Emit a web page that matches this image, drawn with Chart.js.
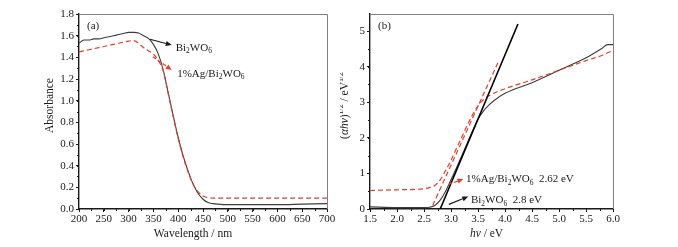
<!DOCTYPE html>
<html>
<head>
<meta charset="utf-8">
<script src="https://cdn.jsdelivr.net/npm/chart.js@4/dist/chart.umd.min.js"></script>
<style>
  html, body { margin: 0; padding: 0; background: #fff; }
  #wrap { position: relative; width: 678px; height: 247px; }
  #wrap canvas { position: absolute; top: 0; }
</style>
</head>
<body>
<div id="wrap">
  <canvas id="panelA" width="340" height="247" style="left:0"></canvas>
  <canvas id="panelB" width="338" height="247" style="left:340px"></canvas>
</div>
<script>
// Panel (a): UV-vis absorbance; panel (b): Tauc plot (αhν)^1/2 vs hν.

const wavelength = [200, 210, 220, 230, 240, 250, 260, 270, 280, 290, 300, 310, 320, 330, 340, 350, 360, 370,
  380, 390, 400, 410, 420, 430, 440, 450, 460, 470, 480, 500, 550, 600, 650, 700];
const absBi2WO6 = [1.53, 1.56, 1.56, 1.57, 1.57, 1.58, 1.59, 1.60, 1.61, 1.62, 1.63, 1.63, 1.625, 1.60, 1.575,
  1.52, 1.43, 1.28, 1.07, 0.86, 0.66, 0.49, 0.35, 0.23, 0.145, 0.09, 0.06, 0.05, 0.045, 0.04, 0.04, 0.04, 0.045, 0.05];
const absAg = [1.45, 1.46, 1.47, 1.48, 1.49, 1.50, 1.51, 1.52, 1.53, 1.54, 1.55, 1.555, 1.53, 1.49, 1.46,
  1.43, 1.37, 1.27, 1.06, 0.85, 0.65, 0.48, 0.34, 0.23, 0.16, 0.12, 0.105, 0.10, 0.10, 0.10, 0.10, 0.10, 0.10, 0.10];

const energy = [1.5, 2.0, 2.5, 2.6, 2.7, 2.8, 2.9, 3.0, 3.1, 3.2, 3.3, 3.4, 3.5, 3.6, 3.7, 3.8, 4.0, 4.5, 5.0, 5.5, 5.8, 5.9, 6.0];
const taucBi2WO6 = [0.06, 0.04, 0.04, 0.05, 0.10, 0.25, 0.50, 0.82, 1.15, 1.50, 1.85, 2.20, 2.52, 2.75, 2.92, 3.05,
  3.25, 3.55, 3.90, 4.25, 4.52, 4.62, 4.62];
const taucAg = [0.52, 0.54, 0.57, 0.60, 0.66, 0.82, 1.08, 1.37, 1.70, 2.02, 2.35, 2.65, 2.90, 3.07, 3.18, 3.26,
  3.38, 3.63, 3.90, 4.17, 4.32, 4.39, 4.45];
const tangentBiX = [2.8, 4.24];
const tangentBiY = [0, 5.2];
const tangentAgX = [2.66, 3.88];
const tangentAgY = [0.1, 4.15];

const ticksAX = [200, 250, 300, 350, 400, 450, 500, 550, 600, 650, 700];
const ticksAY = [0, 0.2, 0.4, 0.6, 0.8, 1.0, 1.2, 1.4, 1.6, 1.8];
const ticksBX = [1.5, 2.0, 2.5, 3.0, 3.5, 4.0, 4.5, 5.0, 5.5, 6.0];
const ticksBY = [0, 1, 2, 3, 4, 5];

const SERIF = "'Liberation Serif', 'DejaVu Serif', serif";
const INK = "#1a1a1a";
const GREY = "#3c3c3c";
const RED = "#e0402c";

const pts = (xs, ys) => xs.map((x, i) => ({ x, y: ys[i] }));

// draws a run of [text, style] pieces; style: "" | "i" | "sub" | "sup"
function rich(ctx, segs, x, y, size, align) {
  const fontFor = (st) => {
    const s = st === "sub" || st === "sup" ? size * 0.68 : size;
    return `${st === "i" ? "italic " : ""}${s}px ${SERIF}`;
  };
  let total = 0;
  segs.forEach(([t, st]) => { ctx.font = fontFor(st); total += ctx.measureText(t).width; });
  let cx = align === "center" ? x - total / 2 : x;
  ctx.textAlign = "left";
  ctx.textBaseline = "alphabetic";
  segs.forEach(([t, st]) => {
    ctx.font = fontFor(st);
    const dy = st === "sub" ? size * 0.25 : st === "sup" ? -size * 0.4 : 0;
    ctx.fillText(t, cx, y + dy);
    cx += ctx.measureText(t).width;
  });
}

function arrow(ctx, x0, y0, x1, y1, color, dashed) {
  const a = Math.atan2(y1 - y0, x1 - x0);
  const hl = 6, hw = 2.6;
  const bx = x1 - hl * Math.cos(a), by = y1 - hl * Math.sin(a);
  ctx.save();
  ctx.strokeStyle = color;
  ctx.fillStyle = color;
  ctx.lineWidth = 1.2;
  ctx.setLineDash(dashed ? [4, 2] : []);
  ctx.beginPath(); ctx.moveTo(x0, y0); ctx.lineTo(bx, by); ctx.stroke();
  ctx.setLineDash([]);
  ctx.beginPath();
  ctx.moveTo(x1, y1);
  ctx.lineTo(bx + hw * Math.sin(a), by - hw * Math.cos(a));
  ctx.lineTo(bx - hw * Math.sin(a), by + hw * Math.cos(a));
  ctx.closePath(); ctx.fill();
  ctx.restore();
}

// frame, minor ticks, axis titles and annotations, all placed through the scales
function decor(opts) {
  return {
    id: "decor",
    afterDraw(chart) {
      const { ctx, chartArea: ca, scales: { x, y } } = chart;
      ctx.save();
      ctx.strokeStyle = "#808080";
      ctx.lineWidth = 1;
      ctx.beginPath();
      ctx.moveTo(ca.left, ca.top + 0.5); ctx.lineTo(ca.right + 0.5, ca.top + 0.5); ctx.lineTo(ca.right + 0.5, ca.bottom);
      ctx.stroke();

      ctx.strokeStyle = INK;
      ctx.beginPath();
      for (let v = x.min; v <= x.max + 1e-9; v += opts.minorX) {
        const px = Math.round(x.getPixelForValue(v)) + 0.5;
        ctx.moveTo(px, ca.bottom); ctx.lineTo(px, ca.bottom + 2);
      }
      for (let v = y.min; v <= y.max + 1e-9; v += opts.minorY) {
        const py = Math.round(y.getPixelForValue(v)) + 0.5;
        ctx.moveTo(ca.left, py); ctx.lineTo(ca.left - 2, py);
      }
      ctx.stroke();

      ctx.fillStyle = INK;
      rich(ctx, [[opts.tag, ""]], ca.left + 8, ca.top + 15, 11);
      rich(ctx, opts.xTitle, (ca.left + ca.right) / 2 + opts.xTitleShift, 237, 11.5, "center");
      ctx.save();
      ctx.translate(opts.yTitleX, (ca.top + ca.bottom) / 2 - 6);
      ctx.rotate(-Math.PI / 2);
      rich(ctx, opts.yTitle, 0, 0, 11.5, "center");
      ctx.restore();

      opts.notes.forEach((n) => {
        arrow(ctx, x.getPixelForValue(n.from[0]), y.getPixelForValue(n.from[1]),
          x.getPixelForValue(n.to[0]), y.getPixelForValue(n.to[1]), n.color, n.dashed);
        ctx.fillStyle = INK;
        rich(ctx, n.text, x.getPixelForValue(n.at[0]), y.getPixelForValue(n.at[1]) + 4, 11);
      });
      ctx.restore();
    },
  };
}

function axes(xTicks, yTicks, xDigits, yDigits, xMin, xMax, yMin, yMax, yWidth) {
  const tickFont = { family: SERIF, size: 11 };
  const common = {
    type: "linear",
    grid: { drawOnChartArea: false, drawTicks: true, tickLength: 3, color: INK, lineWidth: 1 },
    border: { display: true, color: INK, width: 1.4 },
  };
  return {
    x: {
      ...common, min: xMin, max: xMax,
      afterBuildTicks: (s) => { s.ticks = xTicks.map((value) => ({ value })); },
      afterFit: (s) => { s.height = 38; },
      ticks: { font: tickFont, color: INK, padding: 1, maxRotation: 0, autoSkip: false,
        callback: (v) => Number(v).toFixed(xDigits) },
    },
    y: {
      ...common, min: yMin, max: yMax,
      afterBuildTicks: (s) => { s.ticks = yTicks.map((value) => ({ value })); },
      afterFit: (s) => { s.width = yWidth; },
      ticks: { font: tickFont, color: INK, padding: 2, autoSkip: false,
        callback: (v) => Number(v).toFixed(yDigits) },
    },
  };
}

const lineBase = { pointRadius: 0, fill: false, cubicInterpolationMode: "monotone" };

new Chart(document.getElementById("panelA"), {
  type: "line",
  data: {
    datasets: [
      { ...lineBase, data: pts(wavelength, absAg), borderColor: RED, borderWidth: 1.2, borderDash: [5, 3], order: 1 },
      { ...lineBase, data: pts(wavelength, absBi2WO6), borderColor: GREY, borderWidth: 1.1, order: 2 },
    ],
  },
  options: {
    responsive: false, animation: false, devicePixelRatio: 1,
    layout: { padding: { left: 0, right: 13, top: 14, bottom: 0 } },
    plugins: { legend: { display: false }, tooltip: { enabled: false } },
    scales: axes(ticksAX, ticksAY, 0, 1, 200, 700, 0, 1.8, 79),
  },
  plugins: [decor({
    tag: "(a)", minorX: 25, minorY: 0.1, xTitleShift: -10, yTitleX: 53,
    xTitle: [["Wavelength / nm", ""]],
    yTitle: [["Absorbance", ""]],
    notes: [
      { from: [343, 1.567], to: [387, 1.514], at: [395, 1.5], color: INK, dashed: false,
        text: [["Bi", ""], ["2", "sub"], ["WO", ""], ["6", "sub"]] },
      { from: [349, 1.406], to: [387, 1.283], at: [398, 1.26], color: RED, dashed: true,
        text: [["1%Ag/Bi", ""], ["2", "sub"], ["WO", ""], ["6", "sub"]] },
    ],
  })],
});

new Chart(document.getElementById("panelB"), {
  type: "line",
  data: {
    datasets: [
      { ...lineBase, data: pts(tangentBiX, tangentBiY), borderColor: "#000", borderWidth: 1.6, order: 0, cubicInterpolationMode: "default" },
      { ...lineBase, data: pts(tangentAgX, tangentAgY), borderColor: RED, borderWidth: 1.2, borderDash: [5, 3], order: 1, cubicInterpolationMode: "default" },
      { ...lineBase, data: pts(energy, taucAg), borderColor: RED, borderWidth: 1.2, borderDash: [5, 3], order: 2 },
      { ...lineBase, data: pts(energy, taucBi2WO6), borderColor: GREY, borderWidth: 1.1, order: 3 },
    ],
  },
  options: {
    responsive: false, animation: false, devicePixelRatio: 1,
    layout: { padding: { left: 0, right: 65, top: 14, bottom: 0 } },
    plugins: { legend: { display: false }, tooltip: { enabled: false } },
    scales: axes(ticksBX, ticksBY, 1, 0, 1.5, 6.0, 0, 5.48, 30),
  },
  plugins: [decor({
    tag: "(b)", minorX: 0.25, minorY: 0.5, xTitleShift: -5, yTitleX: 8,
    xTitle: [["hν", "i"], [" / eV", ""]],
    yTitle: [["(", ""], ["αhν", "i"], [")", ""], ["1/2", "sup"], [" / eV", ""], ["1/2", "sup"]],
    notes: [
      { from: [2.95, 0.69], to: [3.23, 0.84], at: [3.28, 0.86], color: RED, dashed: true,
        text: [["1%Ag/Bi", ""], ["2", "sub"], ["WO", ""], ["6", "sub"], ["  2.62 eV", ""]] },
      { from: [2.96, 0.13], to: [3.32, 0.35], at: [3.37, 0.28], color: INK, dashed: false,
        text: [["Bi", ""], ["2", "sub"], ["WO", ""], ["6", "sub"], ["  2.8 eV", ""]] },
    ],
  })],
});
</script>
</body>
</html>
